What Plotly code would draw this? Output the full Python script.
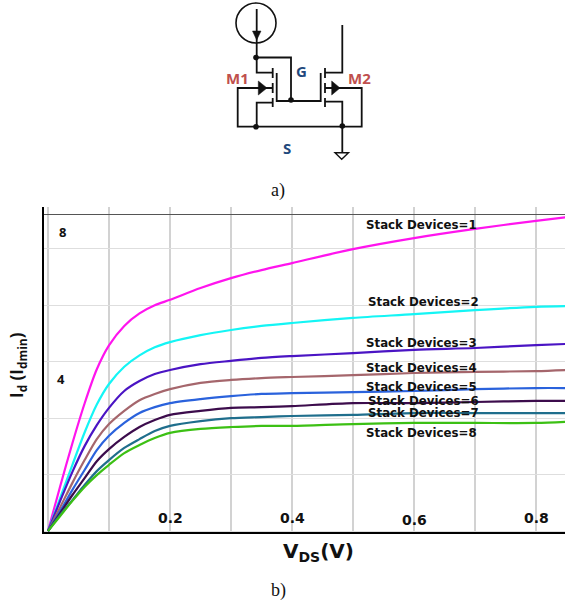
import plotly.graph_objects as go

W, H = 565, 606

vds = [0, .02, .04, .06, .08, .1, .125, .15, .175, .2, .25, .3, .35, .4, .5, .6, .7, .8, .85]
stack_1 = [0, 1.22, 2.39, 3.47, 4.40, 5.05, 5.58, 5.92, 6.14, 6.29, 6.61, 6.88, 7.10, 7.29, 7.67, 7.97, 8.22, 8.44, 8.54]
stack_2 = [0, 0.90, 1.80, 2.68, 3.44, 4.00, 4.47, 4.78, 5.00, 5.14, 5.33, 5.47, 5.58, 5.66, 5.80, 5.90, 6.01, 6.10, 6.12]
stack_3 = [0, 0.82, 1.61, 2.31, 2.88, 3.35, 3.81, 4.08, 4.27, 4.38, 4.54, 4.63, 4.71, 4.76, 4.84, 4.93, 4.98, 5.06, 5.09]
stack_4 = [0, 0.65, 1.31, 1.93, 2.50, 2.91, 3.27, 3.56, 3.73, 3.86, 4.03, 4.11, 4.16, 4.19, 4.24, 4.30, 4.33, 4.35, 4.38]
stack_5 = [0, 0.54, 1.12, 1.66, 2.20, 2.59, 2.94, 3.21, 3.37, 3.48, 3.59, 3.67, 3.73, 3.75, 3.78, 3.81, 3.86, 3.89, 3.89]
stack_6 = [0, 0.49, 0.98, 1.44, 1.90, 2.23, 2.56, 2.83, 3.02, 3.16, 3.27, 3.35, 3.37, 3.40, 3.48, 3.48, 3.51, 3.54, 3.54]
stack_7 = [0, 0.44, 0.84, 1.25, 1.63, 1.93, 2.26, 2.50, 2.72, 2.86, 2.99, 3.07, 3.10, 3.13, 3.16, 3.21, 3.21, 3.21, 3.21]
stack_8 = [0, 0.41, 0.82, 1.20, 1.52, 1.80, 2.12, 2.34, 2.53, 2.67, 2.78, 2.83, 2.86, 2.86, 2.91, 2.94, 2.94, 2.94, 2.97]
series = [stack_1, stack_2, stack_3, stack_4, stack_5, stack_6, stack_7, stack_8]
colors = ["#ff14ee", "#14f5f5", "#4a14c4", "#a5666c", "#2a62dc", "#3c0c4c", "#1f6e8c", "#3cc014"]
names = [f"Stack Devices={i}" for i in range(1, 9)]
label_px = [(421, 225), (423, 302), (421, 343), (421, 368), (421, 387), (423, 401), (423, 413), (421, 433)]

x_ticks = [0.2, 0.4, 0.6, 0.8]
x_tick_text = ["0.2", "0.4", "0.6", "0.8"]
x_tick_py = [518, 518, 520, 518]
y_labels = [("8", 62, 232), ("4", 61, 379)]

fig = go.Figure()
for vals, c, n in zip(series, colors, names):
    fig.add_trace(go.Scatter(x=vds, y=vals, mode="lines", name=n, showlegend=False,
                             line=dict(color=c, width=2.2, shape="spline", smoothing=0.8),
                             hoverinfo="skip", xaxis="x", yaxis="y", cliponaxis=True))

shapes, ann = [], []


def poly(pts, closed=False, fill=None, width=1.8):
    d = "M" + " L".join(f"{a},{b}" for a, b in pts) + (" Z" if closed else "")
    shapes.append(dict(type="path", path=d, xref="x2", yref="y2",
                       line=dict(color="#111", width=width),
                       fillcolor=fill if fill else "rgba(0,0,0,0)"))


def dot(a, b, r=2.8):
    shapes.append(dict(type="circle", xref="x2", yref="y2", x0=a - r, x1=a + r, y0=b - r, y1=b + r,
                       fillcolor="#111", line=dict(color="#111", width=0)))


# current source
shapes.append(dict(type="circle", xref="x2", yref="y2", x0=236, x1=276, y0=3, y1=43,
                   line=dict(color="#111", width=1.6)))
poly([(256.7, 9), (256.7, 57)])
poly([(252.5, 31), (261, 31), (256.7, 40)], closed=True, fill="#111", width=0.5)
dot(256, 57.5)
# M1
poly([(256.7, 57.5), (291, 57.5), (291, 100)])
poly([(256.7, 57.5), (256.7, 72.7), (272.7, 72.7)])
poly([(272.7, 102.7), (256.7, 102.7), (256.7, 126.7)])
poly([(272.7, 88), (237.7, 88), (237.7, 126.7), (361.7, 126.7), (361.7, 88), (325, 88)])
poly([(276.7, 73), (276.7, 101), (320.7, 101), (320.7, 73)])
for gx in (272.7, 325):
    poly([(gx, 68), (gx, 78)])
    poly([(gx, 83), (gx, 93)])
    poly([(gx, 98), (gx, 107)])
poly([(258.3, 81), (258.3, 95), (267, 88)], closed=True, fill="#111", width=0.5)
# M2
poly([(325, 72.7), (342.3, 72.7), (342.3, 25)])
poly([(325, 101.7), (342.3, 101.7), (342.3, 152.7)])
poly([(331.7, 81), (331.7, 95), (340, 88)], closed=True, fill="#111", width=0.5)
poly([(335, 152.7), (348.5, 152.7), (341.7, 159.3)], closed=True, width=1.4)
dot(291, 100)
dot(256, 126.7)
dot(342.3, 126)

# frame lines of the plot
shapes.append(dict(type="line", xref="x2", yref="y2", x0=43, x1=565, y0=214.5, y1=214.5,
                   line=dict(color="#555", width=1)))
shapes.append(dict(type="line", xref="x2", yref="y2", x0=43, x1=43, y0=207, y1=534,
                   line=dict(color="#000", width=2)))
shapes.append(dict(type="line", xref="x2", yref="y2", x0=42, x1=565, y0=533, y1=533,
                   line=dict(color="#000", width=2)))


def text(t, a, b, size, color="#111", fam="Open Sans", bold=True, angle=0, xref="x2"):
    ann.append(dict(text=f"<b>{t}</b>" if bold else t, x=a, y=b, xref=xref, yref="y2",
                    showarrow=False, xanchor="center", yanchor="middle", textangle=angle,
                    font=dict(size=size, color=color, family=fam)))


text("M1", 237.5, 77.5, 15, "#c0504d")
text("M2", 359.5, 77.5, 15, "#c0504d")
text("G", 301, 71, 15, "#1f497d")
text("S", 287, 148, 15, "#1f497d")
text("a)", 278, 190, 18, "#111", "Liberation Serif", bold=False)
text("b)", 278, 590, 18, "#111", "Liberation Serif", bold=False)

for n, (a, b) in zip(names, label_px):
    text(n, a, b, 11.8, "#111", "DejaVu Sans")
for v, t, b in zip(x_ticks, x_tick_text, x_tick_py):
    text(t, v, b, 14, "#111", "DejaVu Sans", xref="x")
for t, a, b in y_labels:
    text(t, a, b, 13, "#111", "Open Sans")
text("V<sub>DS</sub>(V)", 318, 552, 20, "#111", "DejaVu Sans")
text("I<sub>d</sub> (I<sub>dmin</sub>)", 17, 365, 17, "#111", "Open Sans", angle=-90)

fig.update_layout(
    width=W, height=H, autosize=False, margin=dict(l=0, r=0, t=0, b=0),
    paper_bgcolor="white", plot_bgcolor="rgba(0,0,0,0)", showlegend=False,
    shapes=shapes, annotations=ann,
    xaxis=dict(domain=[43 / W, 1], range=[-0.0082, 0.8475], tick0=0, dtick=0.1, showgrid=True,
               gridcolor="#d2d2d2", gridwidth=1.5, zeroline=False, showticklabels=False, ticks="",
               showline=False, anchor="y"),
    yaxis=dict(domain=[(H - 533) / H, (H - 207) / H], range=[-0.054, 8.816], tick0=0, dtick=1.537,
               showgrid=True, gridcolor="#dedede", gridwidth=1.2, zeroline=False, showticklabels=False,
               ticks="", showline=False, anchor="x"),
    xaxis2=dict(domain=[0, 1], range=[0, W], visible=False, anchor="y2", fixedrange=True),
    yaxis2=dict(domain=[0, 1], range=[H, 0], visible=False, anchor="x2", fixedrange=True),
)
# keep the pixel-space overlay axes active
fig.add_trace(go.Scatter(x=[], y=[], xaxis="x2", yaxis="y2", showlegend=False, hoverinfo="skip"))
fig.write_html("out.html", config=dict(displayModeBar=False),
               post_script="document.body.style.margin='0';document.body.style.overflow='hidden';")
